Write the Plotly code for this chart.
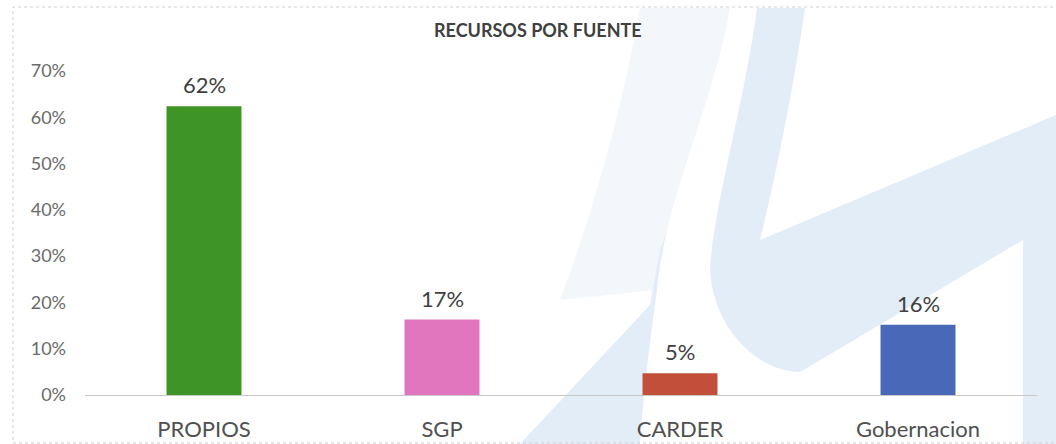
import plotly.graph_objects as go

categories = ["PROPIOS", "SGP", "CARDER", "Gobernacion"]
values = [0.624, 0.163, 0.047, 0.152]
value_labels = ["62%", "17%", "5%", "16%"]
bar_colors = ["#3f9426", "#e276be", "#c14f3a", "#4968b8"]
y_ticks = [0, 0.1, 0.2, 0.3, 0.4, 0.5, 0.6, 0.7]
y_tick_labels = ["0%", "10%", "20%", "30%", "40%", "50%", "60%", "70%"]
title_text = "RECURSOS POR FUENTE"

W, H = 1056, 444
L, R, T, B = 85, 19, 71, 49
PW, PH = W - L - R, H - T - B


def px(x):
    return (x - L) / PW


def py(y):
    return (H - B - y) / PH


def path(cmds):
    out = []
    for c in cmds:
        if isinstance(c, str):
            out.append(c)
        else:
            out.append(f"{px(c[0]):.4f},{py(c[1]):.4f}")
    return " ".join(out)


fig = go.Figure()
fig.add_trace(go.Bar(
    x=categories, y=values, marker=dict(color=bar_colors, line=dict(width=0)),
    hoverinfo="skip", showlegend=False,
))

shapes = []
blue = "#e3edf8"
faint = "#f3f7fc"
# watermark: faint area left of the S stroke
shapes.append(dict(type="path", xref="paper", yref="paper", layer="below",
    path=path(["M", (560, 300), "L", (657, 290), "C", (665, 200), (715, 100), (730, 8),
               "L", (640, 8), "C", (620, 120), (590, 220), (560, 300), "Z"]),
    fillcolor=faint, line=dict(width=0)))
# watermark: blue body (band, lower-left wedge, right strip)
shapes.append(dict(type="path", xref="paper", yref="paper", layer="below",
    path=path(["M", (520, 444), "L", (650, 305), "L", (660, 250),
               "C", (690, 170), (720, 80), (735, 8), "L", (805, 8),
               "C", (795, 80), (775, 180), (760, 240),
               "L", (1056, 115), "L", (1056, 444), "Z"]),
    fillcolor=blue, line=dict(width=0)))
# white S stroke merged with white area under the band
shapes.append(dict(type="path", xref="paper", yref="paper", layer="below",
    path=path(["M", (730, 8), "L", (757, 8),
               "C", (745, 100), (715, 200), (710, 267),
               "C", (712, 330), (760, 372), (800, 372),
               "L", (1023, 240), "L", (1023, 444), "L", (640, 444),
               "C", (643, 400), (650, 340), (657, 290),
               "C", (665, 200), (715, 100), (730, 8), "Z"]),
    fillcolor="white", line=dict(width=0)))
# outer dashed border
shapes.append(dict(type="rect", xref="paper", yref="paper", layer="below",
    x0=px(13), x1=px(1062), y0=py(443), y1=py(7),
    line=dict(color="#cfcfcf", width=1, dash="dot")))

annotations = []
for c, v, t in zip(categories, values, value_labels):
    annotations.append(dict(x=c, y=v, text=t, showarrow=False, yanchor="bottom",
                            yshift=6, font=dict(family="Lato", size=22, color="#404040")))
annotations.append(dict(x=px(538), y=py(30), xref="paper", yref="paper", text=f"<b>{title_text}</b>",
                        showarrow=False, xanchor="center", yanchor="middle",
                        font=dict(family="Lato", size=18, color="#404040")))

fig.update_layout(
    width=W, height=H, margin=dict(l=L, r=R, t=T, b=B, pad=0, autoexpand=False),
    paper_bgcolor="white", plot_bgcolor="rgba(0,0,0,0)",
    bargap=0.685, shapes=shapes, annotations=annotations,
    xaxis=dict(showgrid=False, zeroline=False, showline=True, linecolor="#c8c8c8", linewidth=1,
               ticks="", ticklabelstandoff=15, automargin=False,
               tickfont=dict(family="Lato", size=22, color="#505050")),
    yaxis=dict(range=[0, 0.7], tickvals=y_ticks, ticktext=y_tick_labels, showgrid=False,
               zeroline=False, showline=False, ticks="", ticklabelstandoff=18, automargin=False,
               tickfont=dict(family="Lato", size=18, color="#6a6a6a")),
)

fig.write_html("out.html", config={"displayModeBar": False},
               post_script="document.body.style.margin='0px';")
